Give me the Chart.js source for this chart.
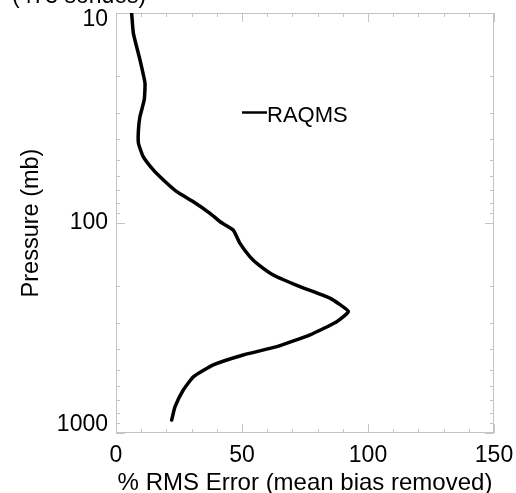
<!DOCTYPE html>
<html>
<head>
<meta charset="utf-8">
<script src="https://cdn.jsdelivr.net/npm/chart.js@4/dist/chart.umd.min.js"></script>
<style>
  html, body { margin: 0; padding: 0; background: #ffffff; }
  #wrap { width: 516px; height: 493px; }
</style>
</head>
<body>
<div id="wrap"><canvas id="c" width="516" height="493"></canvas></div>
<script>
// Ozone RMS error profile versus pressure
const pressureLevels = [10, 12.5, 16.7, 21.6, 25.9, 31.2, 36.1, 41.7, 48.3, 55.9, 62.4, 70.9, 79.2, 89.9, 98.6, 108, 125, 145, 158, 177, 201, 228, 264, 295, 341, 388, 425, 474, 540, 624, 750, 867];
const rmsError      = [6.2, 6.9, 9.5, 11.5, 11.2, 9.5, 8.9, 8.9, 10.8, 14.8, 18.8, 24.1, 30.7, 37.3, 41.3, 46.5, 49.2, 53.2, 56.5, 62.4, 73.0, 84.9, 92.2, 87.6, 77.0, 63.8, 50.5, 38.6, 30.7, 26.7, 23.4, 22.1];
const xTickValues = [0, 50, 100, 150];
const yTickValues = [10, 100, 1000];
const seriesName = 'RAQMS';
const headerText = '(473 sondes)';

const FONT = '"Liberation Sans", Arial, Helvetica, sans-serif';
const FRAME = '#c4c4c4';

// frame, inward tick marks, header fragment and in-plot key
const decorations = {
  id: 'decorations',
  beforeDatasetsDraw(chart) {
    const { ctx, chartArea: a, scales } = chart;
    const xs = scales.x, ys = scales.y;
    ctx.save();
    ctx.strokeStyle = FRAME;
    ctx.lineWidth = 1;
    ctx.strokeRect(a.left + 0.5, a.top + 0.5, a.right - a.left - 1, a.bottom - a.top - 1);
    ctx.beginPath();
    for (let v = 0; v <= 150; v += 10) {
      const px = Math.round(xs.getPixelForValue(v)) + 0.5;
      const len = (v % 50 === 0) ? 9 : 4;
      ctx.moveTo(px, a.bottom); ctx.lineTo(px, a.bottom - len);
      ctx.moveTo(px, a.top); ctx.lineTo(px, a.top + len);
    }
    for (let d = 10; d < 1000; d *= 10) {
      for (let k = 1; k <= 10; k++) {
        const v = d * k;
        const py = Math.round(ys.getPixelForValue(v)) + 0.5;
        const len = (k === 1 || k === 10) ? 9 : 4;
        ctx.moveTo(a.left, py); ctx.lineTo(a.left + len, py);
        ctx.moveTo(a.right, py); ctx.lineTo(a.right - len, py);
      }
    }
    ctx.stroke();
    ctx.restore();
  },
  afterDraw(chart) {
    const { ctx } = chart;
    const ds = chart.data.datasets[0];
    ctx.save();
    ctx.fillStyle = '#000';
    ctx.font = '23px ' + FONT;
    ctx.textAlign = 'left';
    ctx.textBaseline = 'alphabetic';
    ctx.fillText(headerText, 12, 3);
    // key
    ctx.strokeStyle = ds.borderColor;
    ctx.lineWidth = 2.5;
    ctx.beginPath();
    ctx.moveTo(242, 112.5);
    ctx.lineTo(267, 112.5);
    ctx.stroke();
    ctx.font = '22px ' + FONT;
    ctx.fillText(ds.label, 267, 122);
    ctx.restore();
  }
};

new Chart(document.getElementById('c'), {
  type: 'scatter',
  data: {
    datasets: [{
      label: seriesName,
      data: pressureLevels.map((p, i) => ({ x: rmsError[i], y: p })),
      showLine: true,
      borderColor: '#000000',
      borderWidth: 3.5,
      pointRadius: 0,
      tension: 0.15,
      borderCapStyle: 'round',
      borderJoinStyle: 'round'
    }]
  },
  options: {
    responsive: false,
    animation: false,
    layout: { padding: { top: 13, right: 22, left: 0, bottom: 0 } },
    plugins: { legend: { display: false }, tooltip: { enabled: false }, title: { display: false } },
    scales: {
      x: {
        type: 'linear',
        position: 'bottom',
        min: 0,
        max: 150,
        afterBuildTicks: s => { s.ticks = xTickValues.map(v => ({ value: v })); },
        afterFit: s => { s.height = 60; s.paddingLeft = 0; s.paddingRight = 0; },
        grid: { display: false, drawTicks: false },
        border: { display: false },
        ticks: { color: '#000', padding: 9, maxRotation: 0, font: { size: 23, family: FONT } },
        title: {
          display: true,
          text: '% RMS Error (mean bias removed)',
          color: '#000',
          font: { size: 24, family: FONT, lineHeight: 0.8 },
          padding: { top: 0, bottom: 0 }
        }
      },
      y: {
        type: 'logarithmic',
        position: 'left',
        reverse: true,
        min: 10,
        max: 1000,
        afterBuildTicks: s => { s.ticks = yTickValues.map(v => ({ value: v })); },
        afterFit: s => { s.width = 116; s.paddingTop = 0; s.paddingBottom = 0; },
        grid: { display: false, drawTicks: false },
        border: { display: false },
        ticks: {
          color: '#000',
          padding: 8,
          // end labels sit inside the axis span
          callback: v => v === 10 ? ['', '10'] : (v === 1000 ? ['1000', ''] : String(v)),
          font: c => {
            const v = c.tick ? c.tick.value : 100;
            return { size: 23, family: FONT, lineHeight: v === 10 ? '14px' : (v === 1000 ? '16px' : 1.2) };
          }
        },
        title: {
          display: true,
          text: 'Pressure (mb)',
          color: '#000',
          font: { size: 23.5, family: FONT, lineHeight: 1.2 },
          padding: { top: 17, bottom: 0 }
        }
      }
    }
  },
  plugins: [decorations]
});
</script>
</body>
</html>
